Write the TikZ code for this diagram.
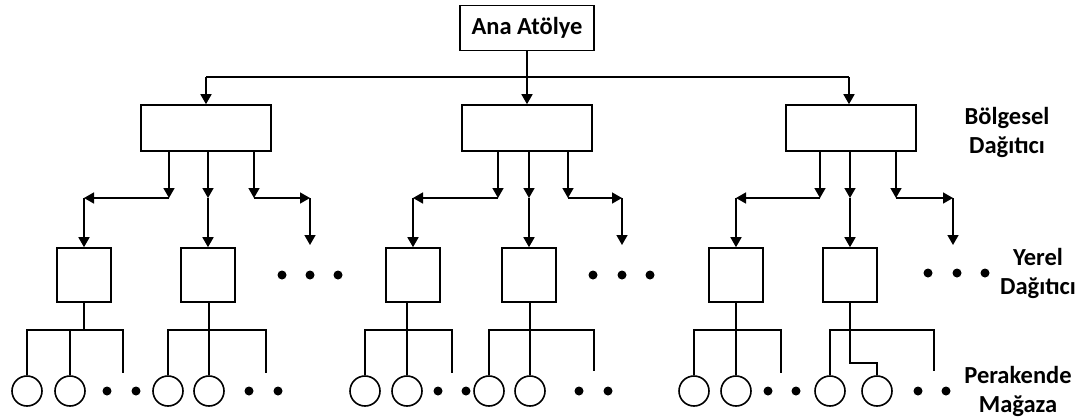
\documentclass[tikz,border=0pt]{standalone}
\usepackage{fontspec}
\setmainfont{Carlito}
\usetikzlibrary{arrows.meta, positioning}

\begin{document}
\begin{tikzpicture}[
  x=1pt, y=-1pt,
  workshop/.style={rectangle, draw, line width=1.6pt, minimum width=134pt, minimum height=45pt, inner sep=2pt, font=\fontsize{24.5}{29}\selectfont\bfseries},
  regional/.style={rectangle, draw, line width=1.6pt, minimum width=130pt, minimum height=46pt},
  localbox/.style={rectangle, draw, line width=1.6pt, minimum width=54pt, minimum height=54pt},
  shop/.style={circle, draw, line width=1.6pt, minimum size=30pt, inner sep=0pt},
  tag/.style={align=center, font=\fontsize{24.5}{29}\selectfont\bfseries},
  arrow/.style={-{Triangle[length=10pt, width=11pt]}, line width=1.6pt},
  link/.style={line width=1.6pt}
]
  \useasboundingbox (0,0) rectangle (1082,418);

  \node[workshop] (top) at (527,28) {Ana Atölye};

  \node[regional] (r1) at (206,128) {};
  \node[regional] (r2) at (527,128) {};
  \node[regional] (r3) at (851,128) {};

  \node[localbox] (l1) at (84,275) {};
  \node[localbox] (l2) at (208,275) {};
  \node[localbox] (l3) at (413,275) {};
  \node[localbox] (l4) at (529,275) {};
  \node[localbox] (l5) at (736,275) {};
  \node[localbox] (l6) at (850,275) {};

  \node[shop] (s1a) at (27,391) {};  \node[shop] (s1b) at (70,391) {};
  \node[shop] (s2a) at (168,391) {}; \node[shop] (s2b) at (209,391) {};
  \node[shop] (s3a) at (365,391) {}; \node[shop] (s3b) at (407,391) {};
  \node[shop] (s4a) at (489,391) {}; \node[shop] (s4b) at (530,391) {};
  \node[shop] (s5a) at (694,391) {}; \node[shop] (s5b) at (736,391) {};
  \node[shop] (s6a) at (830,391) {}; \node[shop] (s6b) at (877,391) {};

  \node[tag] (lblregion) at (1007,132) {Bölgesel\\Dağıtıcı};
  \node[tag] (lbllocal) at (1038,273) {Yerel\\Dağıtıcı};
  \node[tag] (lblshop) at (1018,391) {Perakende\\Mağaza};

  % junctions
  \coordinate (busL) at (206,77);
  \coordinate (busR) at (849,77);
  \coordinate (m1a) at (169,198); \coordinate (m1b) at (208,198); \coordinate (m1c) at (254,198);
  \coordinate (m2a) at (498,198); \coordinate (m2b) at (529,198); \coordinate (m2c) at (568,198);
  \coordinate (m3a) at (820,198); \coordinate (m3b) at (850,198); \coordinate (m3c) at (896,198);
  \coordinate (k1l) at (84,198);  \coordinate (k1r) at (310,198); \coordinate (e1) at (310,245);
  \coordinate (k2l) at (413,198); \coordinate (k2r) at (622,198); \coordinate (e2) at (622,245);
  \coordinate (k3l) at (736,198); \coordinate (k3r) at (953,198); \coordinate (e3) at (953,245);

  % workshop to regional
  \draw[link] (busL) -- (busR);
  \draw[arrow] (top) -- (r2);
  \draw[arrow] (busL) -- (busL |- r1.north);
  \draw[arrow] (busR) -- (busR |- r3.north);

  % regional to local
  \draw[arrow] (m1a |- r1.south) -- (m1a);
  \draw[arrow] (m1a) -- (k1l);
  \draw[arrow] (k1l) -- (l1);
  \draw[arrow] (m1b |- r1.south) -- (m1b);
  \draw[arrow] (m1b) -- (l2);
  \draw[arrow] (m1c |- r1.south) -- (m1c);
  \draw[arrow] (m1c) -- (k1r);
  \draw[arrow] (k1r) -- (e1);

  \draw[arrow] (m2a |- r2.south) -- (m2a);
  \draw[arrow] (m2a) -- (k2l);
  \draw[arrow] (k2l) -- (l3);
  \draw[arrow] (m2b |- r2.south) -- (m2b);
  \draw[arrow] (m2b) -- (l4);
  \draw[arrow] (m2c |- r2.south) -- (m2c);
  \draw[arrow] (m2c) -- (k2r);
  \draw[arrow] (k2r) -- (e2);

  \draw[arrow] (m3a |- r3.south) -- (m3a);
  \draw[arrow] (m3a) -- (k3l);
  \draw[arrow] (k3l) -- (l5);
  \draw[arrow] (m3b |- r3.south) -- (m3b);
  \draw[arrow] (m3b) -- (l6);
  \draw[arrow] (m3c |- r3.south) -- (m3c);
  \draw[arrow] (m3c) -- (k3r);
  \draw[arrow] (k3r) -- (e3);

  % local to shops
  \draw[link] (l1) -- (l1 |- 0,330);
  \draw[link] (s1a) |- (123,330) -- (123,373);
  \draw[link] (s1b) -- (s1b |- 0,330);

  \draw[link] (l2.south -| s2b) -- (s2b);
  \draw[link] (s2a) |- (266,330) -- (266,373);

  \draw[link] (l3.south -| s3b) -- (s3b);
  \draw[link] (s3a) |- (452,330) -- (452,373);

  \draw[link] (l4.south -| s4b) -- (s4b);
  \draw[link] (s4a) |- (594,330) -- (594,371);

  \draw[link] (l5.south -| s5b) -- (s5b);
  \draw[link] (s5a) |- (781,330) -- (781,373);

  \draw[link] (l6) |- (s6b |- 0,363) -- (s6b);
  \draw[link] (s6a) |- (934,330) -- (934,371);

  % dots
  \fill (282,275) circle (4.5) (310,275) circle (4.5) (338,275) circle (4.5)
        (593,275) circle (4.5) (622,275) circle (4.5) (650,275) circle (4.5)
        (928,273) circle (4.5) (957,273) circle (4.5) (985,273) circle (4.5);
  \fill (107,391) circle (4.5) (136,391) circle (4.5)
        (249,391) circle (4.5) (278,391) circle (4.5)
        (438,391) circle (4.5) (466,391) circle (4.5)
        (579,391) circle (4.5) (608,391) circle (4.5)
        (768,391) circle (4.5) (796,391) circle (4.5)
        (918,391) circle (4.5) (946,391) circle (4.5);
\end{tikzpicture}
\end{document}
